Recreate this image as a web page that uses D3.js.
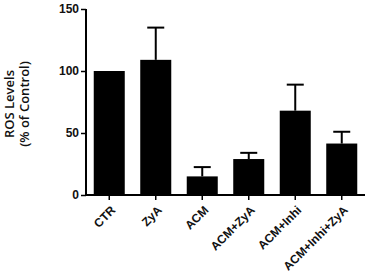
<!DOCTYPE html>
<html>
<head>
<meta charset="UTF-8">
<script src="https://cdn.jsdelivr.net/npm/d3@7/dist/d3.min.js"></script>
<style>
  body { margin: 0; background: #fff; }
  svg { display: block; font-family: "Open Sans", "Liberation Sans", Arial, sans-serif; }
</style>
</head>
<body>
<svg width="371" height="275"></svg>
<script>
const categories = ["CTR", "ZyA", "ACM", "ACM+ZyA", "ACM+Inhi", "ACM+Inhi+ZyA"];
const means = [100, 109, 15, 29, 68, 41.5];
const errors = [0, 26, 7.5, 5, 21, 9.5];
const yTicks = [0, 50, 100, 150];

const svg = d3.select("svg");
const margin = { left: 86, right: 6, top: 9, bottom: 80 };
const width = 371, height = 275;

const x = d3.scaleBand()
    .domain(categories)
    .range([margin.left, width - margin.right])
    .paddingInner(0.333)
    .paddingOuter(0.1665);

const y = d3.scaleLinear()
    .domain([0, 150])
    .range([height - margin.bottom, margin.top]);

// error bars (upper only) drawn first, bars go over them
const withErr = categories.filter((c, i) => errors[i] > 0);
const cx = c => x(c) + x.bandwidth() / 2;
const errTop = c => { const i = categories.indexOf(c); return y(means[i] + errors[i]); };

const err = svg.append("g");
err.selectAll("line.stem")
    .data(withErr)
    .enter().append("line")
    .attr("x1", cx).attr("x2", cx)
    .attr("y1", c => y(means[categories.indexOf(c)]))
    .attr("y2", errTop)
    .attr("stroke", "#000")
    .attr("stroke-width", 2);
err.selectAll("line.cap")
    .data(withErr)
    .enter().append("line")
    .attr("x1", c => cx(c) - 8.5)
    .attr("x2", c => cx(c) + 8.5)
    .attr("y1", errTop).attr("y2", errTop)
    .attr("stroke", "#000")
    .attr("stroke-width", 2);

svg.append("g")
    .selectAll("rect")
    .data(categories)
    .enter().append("rect")
    .attr("x", c => x(c))
    .attr("width", x.bandwidth())
    .attr("y", (c, i) => y(means[i]))
    .attr("height", (c, i) => y(0) - y(means[i]))
    .attr("fill", "#000");

// y axis
const yAxis = svg.append("g")
    .attr("transform", `translate(${margin.left},0)`)
    .call(d3.axisLeft(y).tickValues(yTicks).tickSize(5).tickPadding(2));
yAxis.select(".domain").attr("stroke-width", 2).attr("d", `M0,${y(150)}V${y(0)}`);
yAxis.selectAll(".tick line").attr("stroke-width", 1.5);
yAxis.selectAll(".tick text")
    .attr("font-size", 12)
    .attr("font-weight", 600)
    .attr("fill", "#111");

// x axis
const xAxis = svg.append("g")
    .attr("transform", `translate(0,${y(0)})`)
    .call(d3.axisBottom(x).tickSize(5).tickSizeOuter(0));
xAxis.select(".domain").attr("stroke-width", 2)
    .attr("d", `M${margin.left},0H${width - margin.right}`);
xAxis.selectAll(".tick line").attr("stroke-width", 1.5);
xAxis.selectAll(".tick text")
    .attr("font-size", 12)
    .attr("font-weight", 600)
    .attr("fill", "#111")
    .attr("text-anchor", "end")
    .attr("dy", "0.35em")
    .attr("transform", "translate(4,13) rotate(-45)")
    .attr("y", 0)
    .attr("x", 0);

// y label
const yl = svg.append("text")
    .attr("transform", "translate(14,104) rotate(-90)")
    .attr("text-anchor", "middle")
    .attr("font-size", 13)
    .attr("font-weight", 600)
    .attr("fill", "#111");
yl.append("tspan").attr("x", 0).attr("dy", 0).text("ROS Levels");
yl.append("tspan").attr("x", 0).attr("dy", 15).text("(% of Control)");
</script>
</body>
</html>
